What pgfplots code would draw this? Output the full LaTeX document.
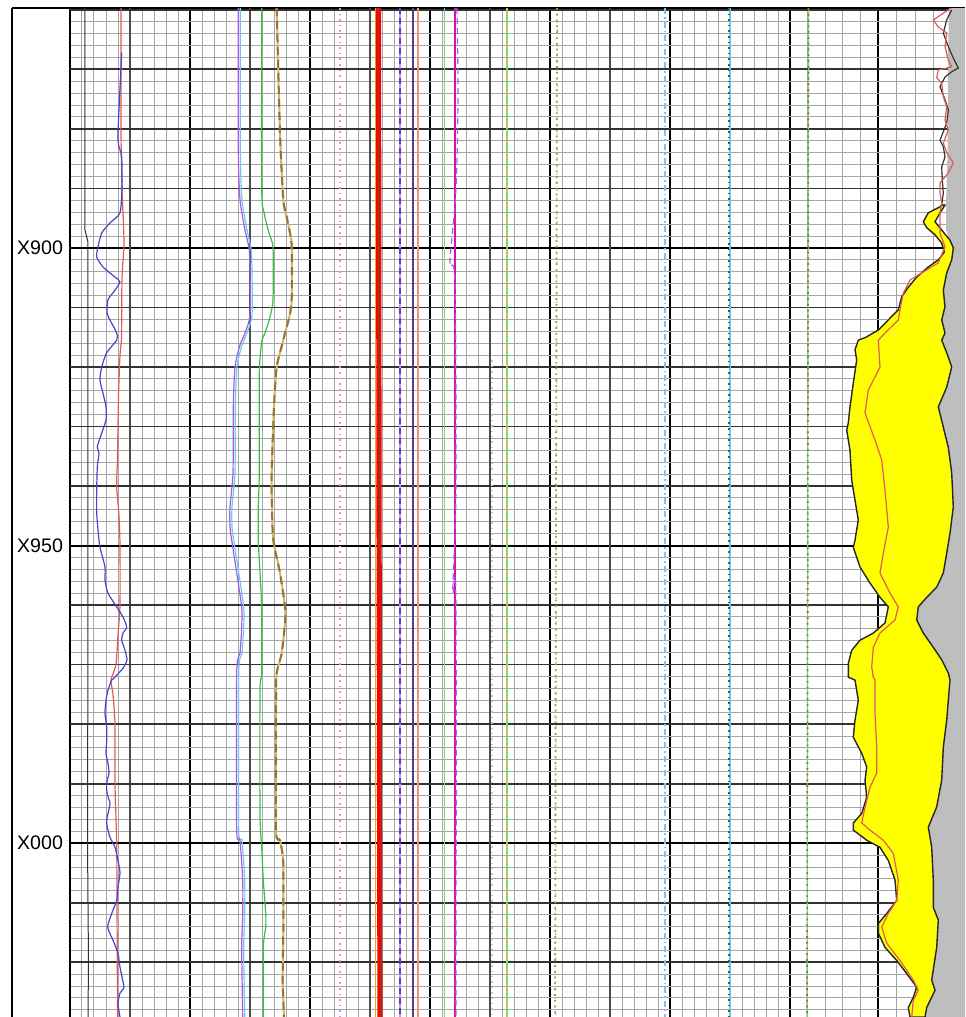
\documentclass[border=0pt]{standalone}
\usepackage{pgfplots}
\pgfplotsset{compat=1.18}
\usepackage{fontspec}
\setmainfont{Liberation Sans}

\definecolor{shadegray}{RGB}{190,190,190}
\definecolor{sandyellow}{RGB}{255,255,0}
\definecolor{grcurve}{RGB}{70,70,200}
\definecolor{salmonred}{RGB}{225,90,90}
\definecolor{violetc}{RGB}{170,90,230}
\definecolor{cyanc}{RGB}{110,200,240}
\definecolor{greenc}{RGB}{60,190,60}
\definecolor{brownc}{RGB}{160,110,60}
\definecolor{olivec}{RGB}{200,190,90}
\definecolor{pinkc}{RGB}{240,130,230}
\definecolor{goldc}{RGB}{230,170,30}
\definecolor{navyc}{RGB}{90,60,130}
\definecolor{peachc}{RGB}{240,150,120}
\definecolor{lgreen}{RGB}{110,220,110}
\definecolor{magc}{RGB}{210,20,170}
\definecolor{tanc}{RGB}{215,195,160}
\definecolor{skyc}{RGB}{120,200,235}
\definecolor{dkgreen}{RGB}{40,110,60}

\begin{document}
\begin{tikzpicture}
\useasboundingbox (0,0) rectangle (482.5pt,-508.5pt);

% depth track frame
\begin{axis}[
  at={(6pt,-4pt)}, anchor=north west,
  scale only axis, width=29pt, height=504.5pt,
  xmin=0, xmax=1, ymin=859.7, ymax=1029.2, y dir=reverse,
  axis x line*=top, axis y line*=left,
  axis line style={black, line width=1pt},
  xtick=\empty, ytick=\empty,
]
\end{axis}

% log tracks
\begin{axis}[
  at={(35pt,-4pt)}, anchor=north west,
  scale only axis, width=447.5pt, height=504.5pt,
  xmin=70, xmax=965, ymin=859.7, ymax=1029.2, y dir=reverse,
  axis x line*=top, axis y line*=left,
  axis line style={black, line width=1pt},
  xtick={70,190,310,430,550,670,790,878},
  xticklabels={},
  minor xtick={82,94,...,778,807.6,825.2,842.8,860.4,896.5,915,933.5},
  extra x ticks={130,250,370,490,610,730},
  extra x tick labels={},
  extra x tick style={grid=major, major grid style={black!70, line width=0.8pt}},
  ytick={900,950,1000},
  yticklabels={X900,X950,X000},
  minor ytick={860,862,...,1028},
  extra y ticks={860,870,880,890,910,920,930,940,960,970,980,990,1010,1020},
  extra y tick labels={},
  extra y tick style={grid=major, major grid style={black!80, line width=0.85pt}},
  grid=both,
  major grid style={black, line width=1pt},
  minor grid style={black!35, line width=0.5pt},
  major tick length=0pt, minor tick length=0pt,
  yticklabel style={font=\fontsize{9.8}{11}\selectfont},
  no markers,
]

% shading right of the outer curve
\addplot[draw=none, fill=shadegray] coordinates {
(949,859.7)(948,868)(947.5,884)(946,892.8)(946,897)(951,899.2)(953.3,900)(951.7,902)
(946.7,904.2)(943.3,907.1)(945,909.9)(941.7,912.1)(945,914.3)(941.7,915.5)
(946.7,917.6)(951.7,920.0)(946.7,923.4)(938.3,926.7)(943.3,930.1)(948.3,933.5)
(951.7,937.8)(953.3,943.5)(950,947.9)(946.7,951.3)(943.3,954.6)(936.7,957.0)
(926.7,958.7)(918.3,960.3)(916.7,962.5)(923.3,964.7)(933.3,967.1)(941.7,969.2)
(948.3,971.4)(950,972.6)(948.3,976.0)(946.7,979.3)(943.3,983.9)(941.7,989.4)
(936.7,993.9)(928.3,997.3)(931.7,1000.7)(933.3,1006.2)(933.3,1010.8)(938.3,1012.9)
(936.7,1017.5)(931.7,1023.0)(935,1024.7)(926.7,1027.6)(925,1029.2)
(965,1029.2)(965,859.7)
} -- cycle;

% yellow fill
\addplot[draw=black!85, line width=0.7pt, fill=sandyellow] coordinates {
(941.7,892.8)(940,893.1)(928.3,894.1)(923.3,895.6)(926.7,896.6)(935,897.8)(941.7,899.2)
(944.3,900.7)(938.3,902.0)(928.3,903.2)(916.7,904.9)(908.3,906.6)(901.7,908.2)
(898.3,910.4)(888.3,912.1)(878.3,913.8)(866,915.0)(858.3,915.5)(855,917.1)
(856.7,918.8)(853.3,922.7)(850,926.7)(848.3,929.4)(846.7,930.6)(850,934.0)
(851.7,939.0)(855,942.4)(858.3,945.7)(855,949.1)(853.3,950.3)(860,953.6)
(870,956.3)(880,958.7)(888.3,960.3)(885,963.0)(873.3,964.7)(860,965.9)
(851.7,967.6)(848.3,969.8)(848.3,972.1)(855,972.6)(858.3,976.0)(855,979.3)
(853.3,982.2)(861.7,984.9)(866.7,987.2)(865,989.4)(866.7,992.3)(861.7,995.0)
(853.3,996.6)(853.3,997.8)(866.7,999.5)(880,1000.7)(888.3,1002.9)(895,1006.2)
(896.7,1009.6)(886.7,1011.8)(878.3,1013.5)(878.3,1015.1)(885,1017.5)(896.7,1019.7)
(906.7,1021.9)(916.7,1024.2)(913.3,1025.9)(908.3,1027.6)(910,1029.2)
(925,1029.2)(926.7,1027.6)(935,1024.7)(931.7,1023.0)(936.7,1017.5)(938.3,1012.9)
(933.3,1010.8)(933.3,1006.2)(931.7,1000.7)(928.3,997.3)(936.7,993.9)(941.7,989.4)
(943.3,983.9)(946.7,979.3)(948.3,976.0)(950,972.6)(948.3,971.4)(941.7,969.2)
(933.3,967.1)(923.3,964.7)(916.7,962.5)(918.3,960.3)(926.7,958.7)(936.7,957.0)
(943.3,954.6)(946.7,951.3)(950,947.9)(953.3,943.5)(951.7,937.8)(948.3,933.5)
(943.3,930.1)(938.3,926.7)(946.7,923.4)(951.7,920.0)(946.7,917.6)(941.7,915.5)
(945,914.3)(941.7,912.1)(945,909.9)(943.3,907.1)(946.7,904.2)(951.7,902.0)
(953.3,900)(950,898.7)(941.7,897.0)(935,895.6)(940,894.1)(945,892.8)
} -- cycle;

% outer curve above the fill
\addplot[black!80, line width=0.6pt] coordinates {
(951.7,860.0)(946.7,861.7)(943.3,863.9)(948.3,866.2)(953.3,868.1)(958.3,869.8)
(951.7,870.4)(945,871.3)(940,872.9)(945,875.1)(948.3,876.8)(946.7,879.0)
(940,881.9)(943.3,883.0)(945,884.7)(941.7,886.4)(942.3,888.6)(943.3,890.8)(941.7,892.8)
};

% red curve in the right track
\addplot[salmonred, line width=0.6pt] coordinates {
(951,859.7)(933.3,861.7)(938.3,862.9)(946.7,863.9)(945,866.2)(948.3,868.4)(951.7,869.6)
(938.3,870.1)(936.7,871.4)(941.7,872.3)(943.3,874.6)(946.7,876.3)(945,878.5)
(948.3,880.2)(943.3,882.4)(946.7,884.0)(953.3,885.7)(948.3,887.4)(940,889.1)
(940,890.8)(941.7,892.4)(940,894.1)(940,897.5)(945,899.8)(938.3,902.5)(921.7,904.2)
(910,905.4)(903.3,907.6)(900,910.4)(898.3,912.1)(885,914.3)(878.3,915.5)(880,920.0)
(868.3,923.9)(865,927.7)(875,932.3)(881.7,935.6)(885,940.7)(888.3,946.9)(883.3,951.3)
(880,954.6)(890,958.0)(898.3,960.3)(895,962.5)(880,964.7)(873.3,967.1)(871.7,970.4)
(873.3,972.1)(875,972.6)(875,978.2)(876.7,983.9)(876.7,988.2)(870,990.6)(865,994.0)
(861.7,996.6)(870,997.8)(883.3,999.5)(893.3,1001.7)(898.3,1006.2)(896.7,1009.6)
(888.3,1011.8)(881.7,1014.1)(886.7,1016.8)(900,1019.7)(913.3,1023.0)(918.3,1024.7)
(913.3,1026.4)(911.7,1029.2)
};

% track 1
\addplot[black!80, line width=0.5pt] coordinates {
(85,859.7)(85,897)(88,899)(88,960)(87.5,1000)(88.5,1020)(88,1029.2)
};
\addplot[salmonred, line width=0.6pt, smooth, tension=0.4] coordinates {
(121,859.7)(121,880)(122,890)(124,899)(122,905)(121.5,915)(120,918)(118.5,925)
(117.5,935)(116.7,940)(119,945)(120,950)(120,960)(118,965)(116,970)(111,972.6)
(113,975)(115,980)(115,990)(116.7,1000)(117,1010)(117.3,1020)(117.5,1029.2)
};
\addplot[grcurve, line width=0.6pt, smooth, tension=0.4] coordinates {
(121.7,867.2)(118,880.7)(119,883.0)(121.7,884.7)(122,889.8)(120,894.1)(110,895.8)
(101.7,897.5)(98,899.8)(96.7,901.5)(103,903.2)(115,904.9)(120,905.7)(115,907.1)
(108,908.7)(107,910.9)(110,912.1)(116.7,914.3)(116.7,915.5)(106.7,917.6)(101.7,920.0)
(100,922.2)(103,924.4)(106,926.7)(106,928.9)(101.7,931.1)(97.3,933.4)(99,934.5)
(97.3,936.8)(96.7,940.7)(96.7,944.5)(98.3,947.9)(100,950.3)(105,953.6)(105,955.8)
(108,958.0)(116.7,960.3)(123,962.0)(126.7,963.7)(123,964.7)(121.7,965.9)(125,967.6)
(127,969.2)(123,970.6)(115,972.1)(111.7,972.6)(108,974.3)(106,976.0)(105,978.2)
(106.7,980.5)(106.7,982.7)(106,984.9)(108,986.6)(109,988.2)(106.7,989.9)(107,991.6)
(110,993.3)(108,995.0)(106.7,996.1)(107.3,997.3)(110,999.0)(115,1000.7)(118,1002.9)
(120,1005.0)(118,1007.4)(116.7,1009.6)(111.7,1011.8)(107.7,1014.1)(113,1016.3)
(118,1018.5)(120,1020.8)(122.7,1023.0)(124,1024.2)(120,1025.2)(118,1026.9)(120,1029.2)
};

% track 2
\addplot[cyanc, line width=0.6pt, smooth, tension=0.4] coordinates {
(240.3,859.7)(240.3,883.5)(242,891.9)(247,897.0)(251,900)(252,903.7)(252,911.3)
(247,914.3)(242,916.3)(237,920.0)(235.3,926.7)(235,937.8)(232,943.5)(232,946.9)
(233.7,949.1)(238.7,954.6)(243.7,960.3)(243.7,963.7)(242,968.1)(238.7,971.4)
(238.7,997.8)(242,999.5)(244.7,1006.2)(244.7,1011.8)(243.7,1017.5)(244.7,1029.2)
};
\addplot[violetc, line width=0.6pt, smooth, tension=0.4] coordinates {
(238.3,859.7)(238.3,883.5)(240,891.9)(245,897.0)(249,900)(250,903.7)(250,911.3)
(245,914.3)(240,916.3)(235,920.0)(233.3,926.7)(233,937.8)(230,943.5)(230,946.9)
(231.7,949.1)(236.7,954.6)(241.7,960.3)(241.7,963.7)(240,968.1)(236.7,971.4)
(236.7,997.8)(240,999.5)(242.7,1006.2)(242.7,1011.8)(241.7,1017.5)(242.7,1029.2)
};
\addplot[greenc, line width=0.6pt, smooth, tension=0.4] coordinates {
(261.7,859.7)(261.7,890)(264,894)(268.5,897.2)(273,900)(273,908.7)(270,911.6)(265,914.3)
(261.7,915.8)(259.3,921.0)(259.3,937.8)(258.3,943.5)(258.3,949.1)(260,954.6)
(261.7,960.3)(261.7,971.4)(260,974.3)(260,995.0)(261.7,1000.7)(263.3,1006.2)
(265.7,1011.8)(265.7,1014.1)(263.3,1017.5)(263.3,1029.2)
};
\addplot[olivec, line width=1pt, smooth, tension=0.4] coordinates {
(276.7,859.7)(280,880.7)(283.3,891.9)(286.7,894.8)(290,897.5)(291.7,899.8)(291.7,908.7)
(289.3,911.6)(285,914.3)(283.3,915.5)(276.7,920.0)(274,926.7)(271.7,937.8)(272,943.5)
(273.3,949.1)(280,954.6)(285,960.3)(285,963.0)(281.7,968.1)(276.7,971.4)(276,976.0)
(276,997.8)(280,999.5)(283.3,1003.4)(283.3,1014.6)(282.7,1023.0)(284,1029.2)
};
\addplot[brownc, line width=1pt, dash pattern=on 4pt off 2.5pt, smooth, tension=0.4] coordinates {
(276.7,859.7)(280,880.7)(283.3,891.9)(286.7,894.8)(290,897.5)(291.7,899.8)(291.7,908.7)
(289.3,911.6)(285,914.3)(283.3,915.5)(276.7,920.0)(274,926.7)(271.7,937.8)(272,943.5)
(273.3,949.1)(280,954.6)(285,960.3)(285,963.0)(281.7,968.1)(276.7,971.4)(276,976.0)
(276,997.8)(280,999.5)(283.3,1003.4)(283.3,1014.6)(282.7,1023.0)(284,1029.2)
};

% near-constant curves in the middle tracks
\addplot[pinkc, line width=0.8pt, dotted] coordinates {(340,859.7)(340,1029.2)};
\addplot[goldc, line width=0.5pt] coordinates {(375.5,859.7)(375.5,1029.2)};
\addplot[red, line width=2.6pt] coordinates {(378.5,859.7)(379,940)(380,1029.2)};
\addplot[brownc!70!black, line width=0.5pt] coordinates {(378,859.7)(378.5,905)(380,960)(381.5,1029.2)};
\addplot[pinkc, line width=0.8pt] coordinates {(400,859.7)(400,1029.2)};
\addplot[grcurve, line width=0.8pt, dash pattern=on 3pt off 2pt] coordinates {(400,859.7)(400,1029.2)};
\addplot[navyc, line width=0.7pt] coordinates {(413,859.7)(413,1029.2)};
\addplot[peachc, line width=0.7pt] coordinates {(418,859.7)(418,1029.2)};
\addplot[lgreen, line width=0.6pt] coordinates {(444.5,859.7)(444.5,1029.2)};
\addplot[magc, line width=0.7pt] coordinates {(455,859.7)(455,1029.2)};
\addplot[violetc, line width=0.6pt, dash pattern=on 3pt off 2pt, smooth] coordinates {
(457,859.7)(458,875)(456,890)(451,900)(450,903)(455,906)(456,940)(453,956)(453,958)(456,960)(456,1029.2)
};
\addplot[tanc, line width=0.7pt, dotted] coordinates {(492,918)(492,1029.2)};
\addplot[olivec, line width=0.9pt, dash pattern=on 4pt off 4pt] coordinates {(507,859.7)(507,1029.2)};
\addplot[lgreen, line width=0.9pt, dash pattern=on 4pt off 4pt, dash phase=4pt] coordinates {(507,859.7)(507,1029.2)};
\addplot[olivec!80!black, line width=0.9pt, dotted] coordinates {(557,859.7)(556,940)(555,1029.2)};
\addplot[lgreen, line width=0.5pt, dash pattern=on 1pt off 3pt, dash phase=1.5pt] coordinates {(557.5,859.7)(556.5,940)(555.5,1029.2)};
\addplot[skyc, line width=0.8pt, dash pattern=on 3pt off 1.5pt on 0.8pt off 1.5pt] coordinates {(665,859.7)(665,1029.2)};
\addplot[cyanc, line width=0.6pt] coordinates {(730,859.7)(730,1029.2)};
\addplot[dkgreen, line width=0.8pt, dotted] coordinates {(729,859.7)(729,1029.2)};
\addplot[lgreen, line width=0.6pt] coordinates {(808.5,859.7)(807,1029.2)};
\addplot[brownc, line width=0.9pt, dotted] coordinates {(808.5,859.7)(807,1029.2)};

\end{axis}
\end{tikzpicture}
\end{document}
